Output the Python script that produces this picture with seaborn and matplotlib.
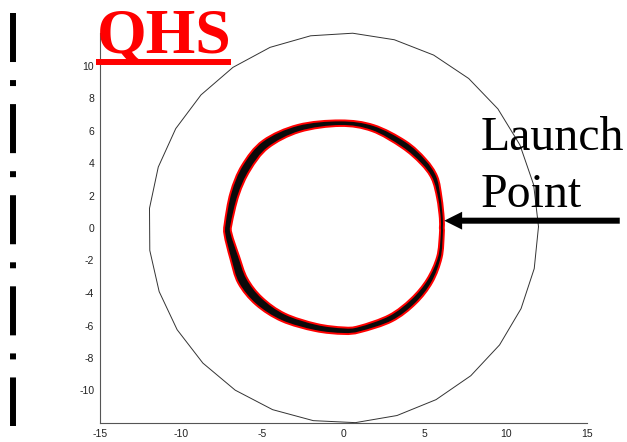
import numpy as np
import pandas as pd
import seaborn as sns
import matplotlib.pyplot as plt
from matplotlib.path import Path
from matplotlib.patches import PathPatch, FancyArrow
from matplotlib.lines import Line2D

# ---- data -------------------------------------------------------------
# last closed flux surface (vessel wall) radius and its polygon resolution
wall_radius = 12.0
wall_segments = 29
wall_phase_deg = 0.4

# Poincare band of the orbit: centre line (x, y) and band thickness
orbit_x = [6.05, 6.05, 5.9, 5.6, 4.9, 3.7, 1.8, -0.2, -2.75, -4.8, -6.0, -6.7, -7.1,
           -7.1, -6.7, -6.2, -5.2, -3.7, -1.7, 0.0, 1.0, 2.9, 4.3, 5.3, 5.9, 6.05]
orbit_y = [0.0, 0.6, 1.85, 3.1, 4.1, 5.15, 6.15, 6.45, 6.13, 5.15, 3.7, 2.1, 0.25,
           -0.4, -1.8, -3.25, -4.5, -5.5, -6.12, -6.32, -6.22, -5.55, -4.5, -3.25, -1.8, -0.4]
orbit_width = [0.24, 0.24, 0.27, 0.36, 0.42, 0.46, 0.38, 0.34, 0.44, 0.55, 0.58, 0.52, 0.42,
               0.44, 0.55, 0.62, 0.58, 0.5, 0.44, 0.4, 0.38, 0.42, 0.42, 0.37, 0.28, 0.24]

launch_point = (6.2, 0.45)
arrow_tail_x = 17.0

x_ticks = [-15, -10, -5, 0, 5, 10, 15]
y_ticks = [-10, -8, -6, -4, -2, 0, 2, 4, 6, 8, 10]

title_text = "QHS"
launch_text = ["Launch", "Point"]


def closed_smooth_path(pts):
    """Closed Catmull-Rom curve through pts, returned as cubic Bezier path pieces."""
    p_prev = np.roll(pts, 1, axis=0)
    p_next = np.roll(pts, -1, axis=0)
    p_next2 = np.roll(pts, -2, axis=0)
    c1 = pts + (p_next - p_prev) / 6.0
    c2 = p_next - (p_next2 - pts) / 6.0
    verts = [pts[0]]
    codes = [Path.MOVETO]
    for i in range(len(pts)):
        verts += [c1[i], c2[i], p_next[i]]
        codes += [Path.CURVE4] * 3
    verts.append(pts[0])
    codes.append(Path.CLOSEPOLY)
    return verts, codes


# ---- figure -----------------------------------------------------------
sns.set_style("white")
plt.rcParams["font.family"] = ["Liberation Sans", "DejaVu Sans"]
plt.rcParams["lines.scale_dashes"] = False

W, H = 627, 442
fig = plt.figure(figsize=(W / 100, H / 100), dpi=100)
ax = fig.add_axes([98 / W, 19 / H, 491 / W, 390 / H])

# vessel wall drawn as a coarse polygon
theta = np.deg2rad(wall_phase_deg + np.arange(wall_segments + 1) * 360.0 / wall_segments)
wall = pd.DataFrame({"x": wall_radius * np.cos(theta), "y": wall_radius * np.sin(theta)})
sns.lineplot(data=wall, x="x", y="y", sort=False, estimator=None, color="#333333",
             linewidth=0.7, ax=ax, clip_on=False)

# orbit band: filled annulus around the centre line, red rim
px = np.asarray(orbit_x, float)
py = np.asarray(orbit_y, float)
pw = np.asarray(orbit_width, float)
tx = np.roll(px, -1) - np.roll(px, 1)
ty = np.roll(py, -1) - np.roll(py, 1)
nrm = np.hypot(tx, ty)
nx, ny = ty / nrm, -tx / nrm
outer = np.column_stack([px + nx * pw / 2, py + ny * pw / 2])
inner = np.column_stack([px - nx * pw / 2, py - ny * pw / 2])[::-1]
v_out, c_out = closed_smooth_path(outer)
v_in, c_in = closed_smooth_path(inner)
ax.add_patch(PathPatch(Path(np.array(v_out + v_in), c_out + c_in), facecolor="#0a0a0a",
                       edgecolor="red", linewidth=1.4, joinstyle="round", zorder=3))

ax.set_xlim(-15, 15)
ax.set_ylim(-12, 12)
ax.set_aspect("equal", adjustable="box")
ax.set_xticks(x_ticks)
ax.set_yticks(y_ticks)
ax.set_xticklabels([f"{v}" for v in x_ticks])
ax.set_yticklabels([f"{v}" for v in y_ticks])
ax.set_xlabel("")
ax.set_ylabel("")
for side in ("top", "right"):
    ax.spines[side].set_visible(False)
for side in ("left", "bottom"):
    ax.spines[side].set_color("#555555")
    ax.spines[side].set_linewidth(0.8)
ax.tick_params(direction="in", length=3, width=0.7, color="#555555",
               labelsize=7.5, labelcolor="#222222", pad=4)

# title with underline
fig.text(97 / W, 1 - 53 / H, title_text, color="red", fontsize=46, fontweight="bold",
         family=["Liberation Serif", "DejaVu Serif"], ha="left", va="baseline")
fig.add_artist(Line2D([96 / W, 231 / W], [1 - 62 / H, 1 - 62 / H], color="red",
                      linewidth=4.3, solid_capstyle="butt"))

# launch point annotation
fig.text(481 / W, 1 - 150 / H, launch_text[0], color="black", fontsize=34.5,
         family=["Liberation Serif", "DejaVu Serif"], ha="left", va="baseline")
fig.text(481 / W, 1 - 207 / H, launch_text[1], color="black", fontsize=34.5,
         family=["Liberation Serif", "DejaVu Serif"], ha="left", va="baseline")
ax.add_patch(FancyArrow(arrow_tail_x, launch_point[1], launch_point[0] - arrow_tail_x, 0,
                        width=0.37, head_width=1.1, head_length=1.1,
                        length_includes_head=True, color="black", linewidth=0,
                        clip_on=False, zorder=4))

# dash-dot rule along the left edge
rule = Line2D([13 / W, 13 / W], [1 - 13 / H, 1 - 426 / H], color="black",
              linewidth=4.3, solid_capstyle="butt", dash_capstyle="butt")
rule.set_dashes((35.3, 13.0, 4.3, 13.0))
fig.add_artist(rule)

fig.savefig("out.png", dpi=100)
